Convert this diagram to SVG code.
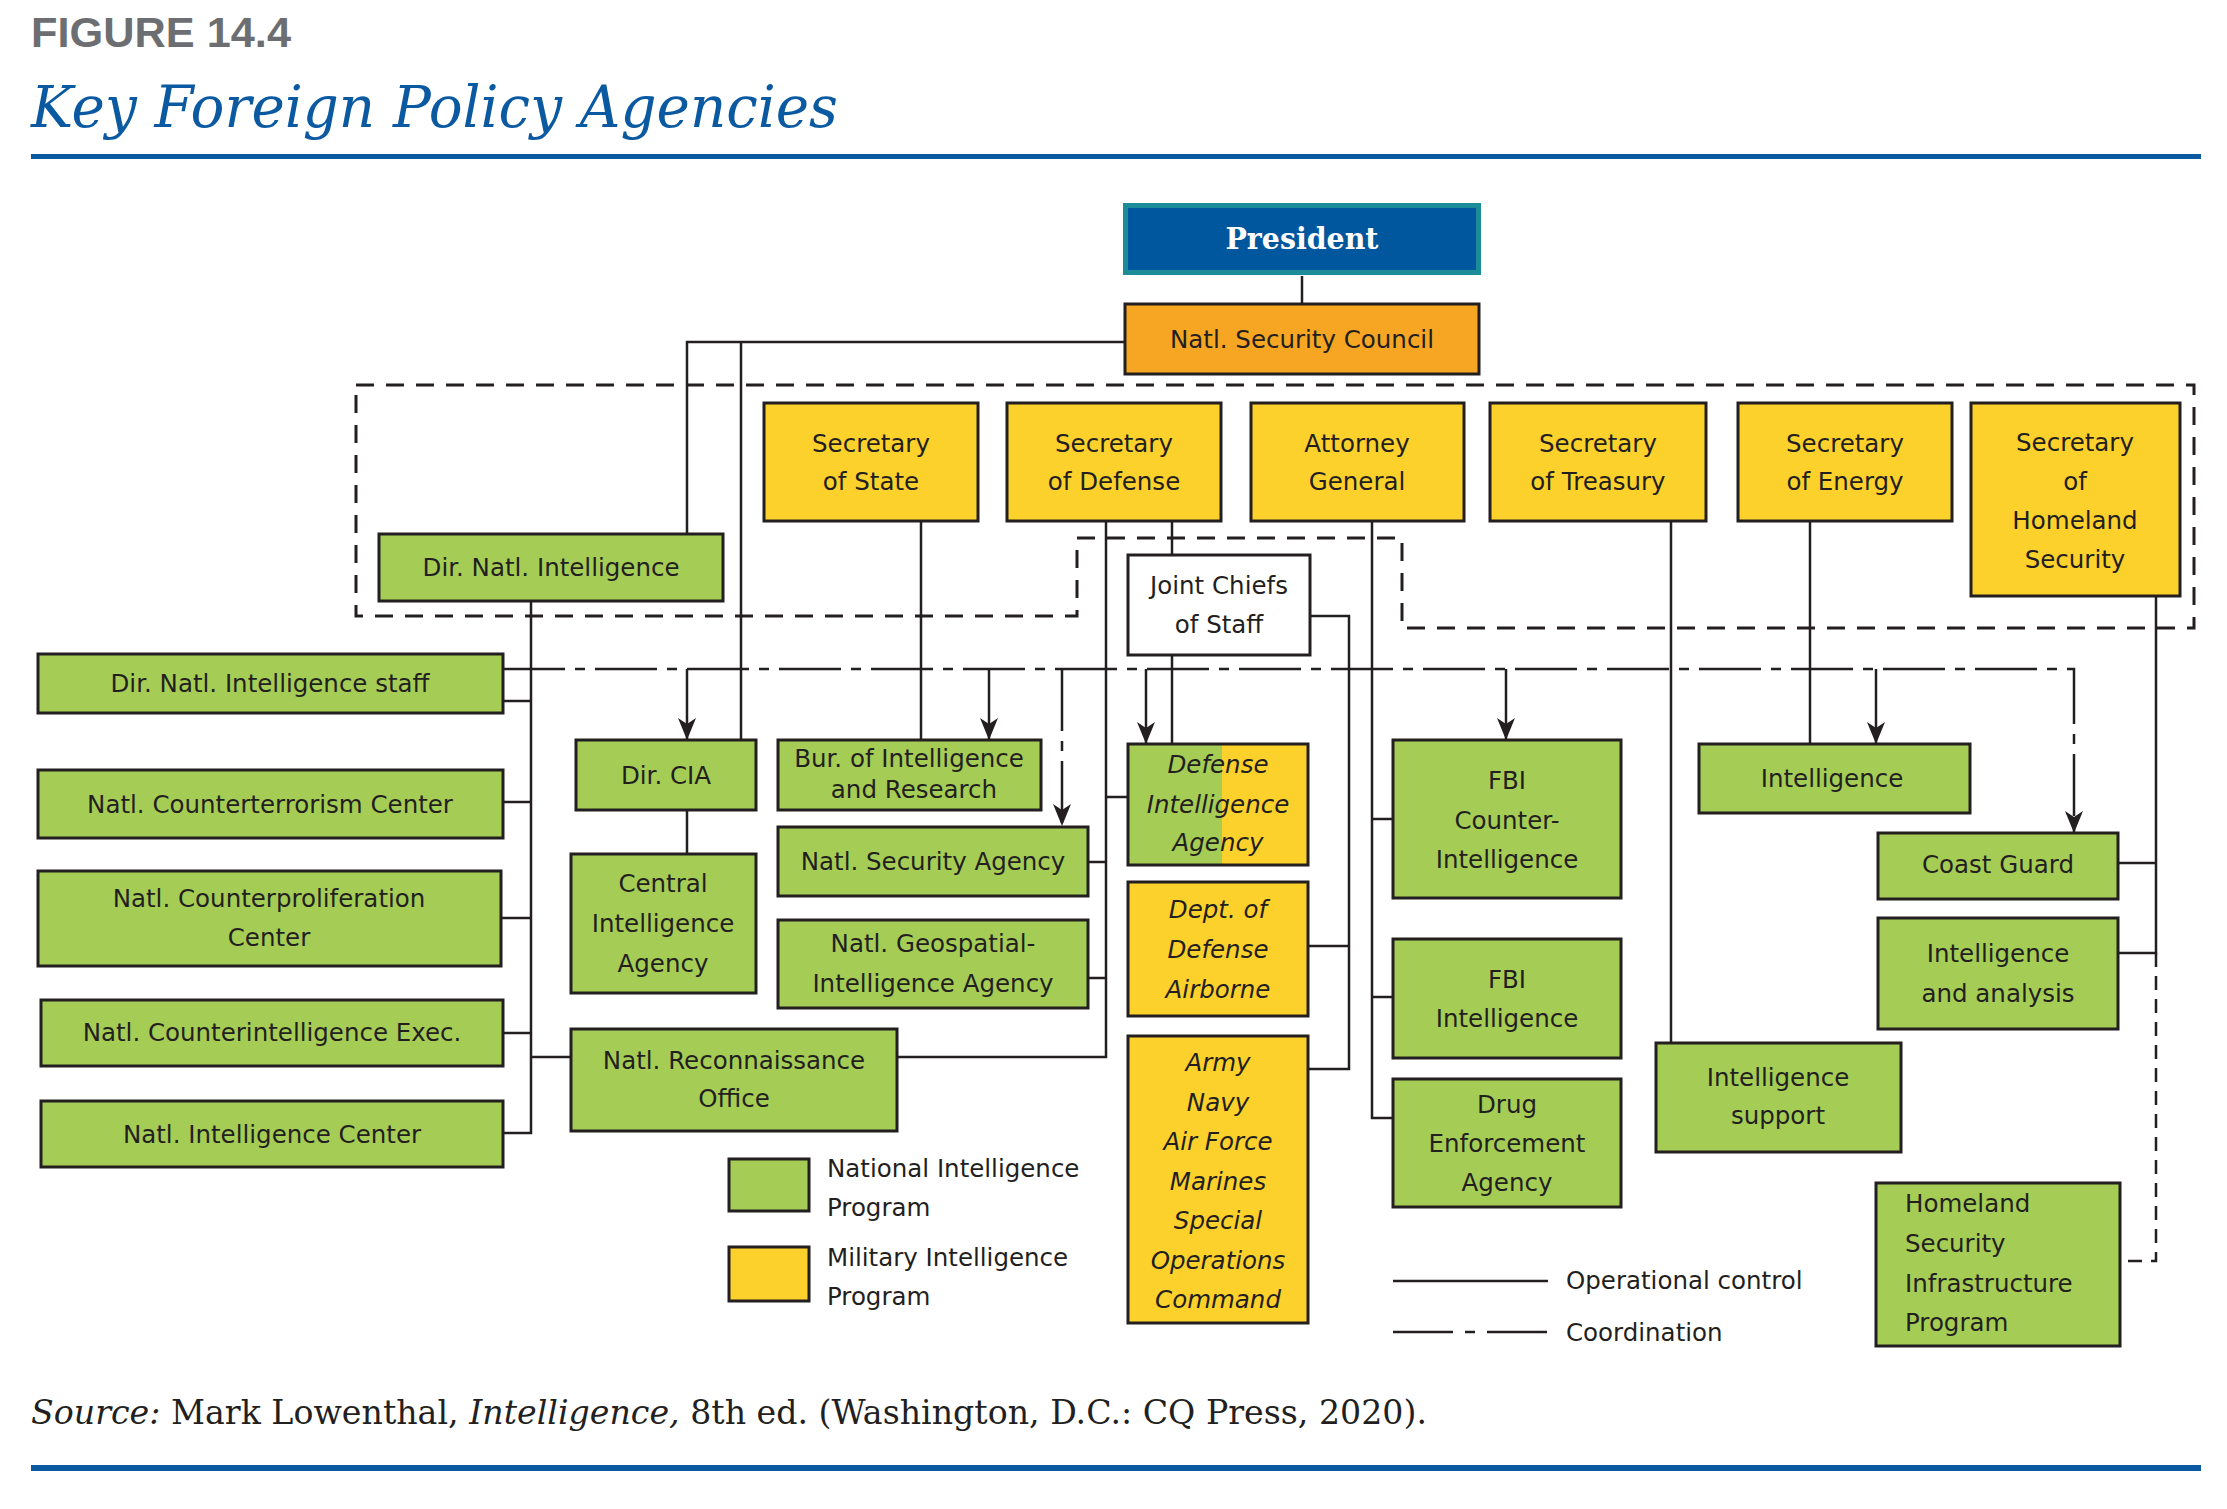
<svg xmlns="http://www.w3.org/2000/svg" width="2227" height="1509" viewBox="0 0 2227 1509">
<defs>
<style>
.bx{stroke:#231f20;stroke-width:3}
.g{fill:#a5cd55}.y{fill:#fdd12b}.o{fill:#f6a623}.w{fill:#ffffff}
.t{font-family:"DejaVu Sans",sans-serif;font-size:24.5px;fill:#231f20;text-anchor:middle}
.i{font-style:italic}
.ln{fill:none;stroke:#231f20;stroke-width:2.5}
.grp{fill:none;stroke:#231f20;stroke-width:3;stroke-dasharray:18 12}
.co{stroke-dasharray:62 10 10 10}
.hd{stroke-dasharray:14 9}
</style>
<marker id="ah" markerUnits="userSpaceOnUse" markerWidth="22" markerHeight="18" viewBox="0 0 22 18" refX="22" refY="9" orient="auto">
<path d="M0,0 L22,9 L0,18 L6,9 Z" fill="#231f20"/>
</marker>
</defs>
<rect width="2227" height="1509" fill="#ffffff"/>

<g id="header">
<text x="31" y="47" font-family="Liberation Sans,Arial,sans-serif" font-weight="bold" font-size="42" fill="#6d6e71" textLength="260" lengthAdjust="spacingAndGlyphs">FIGURE 14.4</text>
<text x="31" y="127" font-family="DejaVu Serif,serif" font-style="italic" font-size="58" fill="#0b5aa1" textLength="807" lengthAdjust="spacingAndGlyphs">Key Foreign Policy Agencies</text>
<rect x="31" y="154" width="2170" height="5" fill="#0b5aa1"/>
</g>

<g id="groupings">
<path class="grp" d="M356,385 H2194 V628 H1402 V538 H1077 V616 H356 Z"/>
</g>

<g id="connectors">
<path class="ln" d="M1302,276 V304"/>
<path class="ln" d="M1125,342 H687 V534"/>
<path class="ln" d="M741,342 V740"/>
<path class="ln" d="M1172,521 V555"/>
<path class="ln" d="M1172,655 V744"/>
<path class="ln" d="M1106,521 V1057 H897"/>
<path class="ln" d="M1088,862 H1106"/>
<path class="ln" d="M1088,978 H1106"/>
<path class="ln" d="M1106,797 H1128"/>
<path class="ln" d="M1310,616 H1349 V1069 H1308"/>
<path class="ln" d="M1308,946 H1349"/>
<path class="ln" d="M1372,521 V1118 H1393"/>
<path class="ln" d="M1372,819 H1393"/>
<path class="ln" d="M1372,997 H1393"/>
<path class="ln" d="M921,521 V740"/>
<path class="ln" d="M1671,521 V1043"/>
<path class="ln" d="M1810,521 V744"/>
<path class="ln" d="M2156,596 V953 H2118"/>
<path class="ln" d="M2118,863 H2156"/>
<path class="ln" d="M531,601 V1133 H503"/>
<path class="ln" d="M503,701 H531"/>
<path class="ln" d="M503,802 H531"/>
<path class="ln" d="M501,918 H531"/>
<path class="ln" d="M503,1033 H531"/>
<path class="ln" d="M531,1057 H571"/>
<path class="ln" d="M687,810 V854"/>
<path class="ln co" d="M503,669 H2074 V833" marker-end="url(#ah)"/>
<path class="ln co" d="M1062,669 V826" marker-end="url(#ah)"/>
<path class="ln" d="M687,669 V740" marker-end="url(#ah)"/>
<path class="ln" d="M989,669 V740" marker-end="url(#ah)"/>
<path class="ln" d="M1146,669 V744" marker-end="url(#ah)"/>
<path class="ln" d="M1506,669 V740" marker-end="url(#ah)"/>
<path class="ln" d="M1876,669 V744" marker-end="url(#ah)"/>
<path class="ln hd" d="M2156,953 V1261 H2122"/>
</g>

<g id="president">
<rect x="1125.5" y="205.5" width="353" height="67" fill="#00579e" stroke="#1c8c99" stroke-width="5"/>
<text x="1302" y="249" font-family="DejaVu Serif,serif" font-weight="bold" font-size="30" fill="#ffffff" text-anchor="middle" textLength="153" lengthAdjust="spacingAndGlyphs">President</text>
</g>
<g id="nsc"><rect class="bx o" x="1125" y="304" width="354" height="70"/><text class="t" x="1302" y="348">Natl. Security Council</text></g>
<g id="sec-state"><rect class="bx y" x="764" y="403" width="214" height="118"/><text class="t"><tspan x="871" y="452">Secretary</tspan><tspan x="871" y="490">of State</tspan></text></g>
<g id="sec-defense"><rect class="bx y" x="1007" y="403" width="214" height="118"/><text class="t"><tspan x="1114" y="452">Secretary</tspan><tspan x="1114" y="490">of Defense</tspan></text></g>
<g id="attorney-general"><rect class="bx y" x="1251" y="403" width="213" height="118"/><text class="t"><tspan x="1357" y="452">Attorney</tspan><tspan x="1357" y="490">General</tspan></text></g>
<g id="sec-treasury"><rect class="bx y" x="1490" y="403" width="216" height="118"/><text class="t"><tspan x="1598" y="452">Secretary</tspan><tspan x="1598" y="490">of Treasury</tspan></text></g>
<g id="sec-energy"><rect class="bx y" x="1738" y="403" width="214" height="118"/><text class="t"><tspan x="1845" y="452">Secretary</tspan><tspan x="1845" y="490">of Energy</tspan></text></g>
<g id="sec-homeland"><rect class="bx y" x="1971" y="403" width="209" height="193"/><text class="t"><tspan x="2075" y="451">Secretary</tspan><tspan x="2075" y="490">of</tspan><tspan x="2075" y="529">Homeland</tspan><tspan x="2075" y="568">Security</tspan></text></g>
<g id="dni"><rect class="bx g" x="379" y="534" width="344" height="67"/><text class="t" x="551" y="576">Dir. Natl. Intelligence</text></g>
<g id="jcs"><rect class="bx w" x="1128" y="555" width="182" height="100"/><text class="t"><tspan x="1219" y="594">Joint Chiefs</tspan><tspan x="1219" y="633">of Staff</tspan></text></g>
<g id="dni-staff"><rect class="bx g" x="38" y="654" width="465" height="59"/><text class="t" x="270" y="692">Dir. Natl. Intelligence staff</text></g>
<g id="nctc"><rect class="bx g" x="38" y="770" width="465" height="68"/><text class="t" x="270" y="813">Natl. Counterterrorism Center</text></g>
<g id="ncpc"><rect class="bx g" x="38" y="871" width="463" height="95"/><text class="t"><tspan x="269" y="907">Natl. Counterproliferation</tspan><tspan x="269" y="946">Center</tspan></text></g>
<g id="ncix"><rect class="bx g" x="41" y="1000" width="462" height="66"/><text class="t" x="272" y="1041">Natl. Counterintelligence Exec.</text></g>
<g id="nic"><rect class="bx g" x="41" y="1101" width="462" height="66"/><text class="t" x="272" y="1143">Natl. Intelligence Center</text></g>
<g id="dir-cia"><rect class="bx g" x="576" y="740" width="180" height="70"/><text class="t" x="666" y="784">Dir. CIA</text></g>
<g id="cia"><rect class="bx g" x="571" y="854" width="185" height="139"/><text class="t"><tspan x="663" y="892">Central</tspan><tspan x="663" y="932">Intelligence</tspan><tspan x="663" y="972">Agency</tspan></text></g>
<g id="nro"><rect class="bx g" x="571" y="1029" width="326" height="102"/><text class="t"><tspan x="734" y="1069">Natl. Reconnaissance</tspan><tspan x="734" y="1107">Office</tspan></text></g>
<g id="inr"><rect class="bx g" x="778" y="740" width="263" height="70"/><text class="t"><tspan x="909" y="767">Bur. of Intelligence</tspan><tspan x="914" y="798">and Research</tspan></text></g>
<g id="nsa"><rect class="bx g" x="778" y="827" width="310" height="69"/><text class="t" x="933" y="870">Natl. Security Agency</text></g>
<g id="nga"><rect class="bx g" x="778" y="920" width="310" height="88"/><text class="t"><tspan x="933" y="952">Natl. Geospatial-</tspan><tspan x="933" y="992">Intelligence Agency</tspan></text></g>
<g id="dia"><rect class="g" x="1128" y="744" width="94" height="121"/><rect class="y" x="1222" y="744" width="86" height="121"/><rect x="1128" y="744" width="180" height="121" fill="none" stroke="#231f20" stroke-width="3"/><text class="t i"><tspan x="1218" y="773">Defense</tspan><tspan x="1218" y="813">Intelligence</tspan><tspan x="1218" y="851">Agency</tspan></text></g>
<g id="dod-airborne"><rect class="bx y" x="1128" y="882" width="180" height="134"/><text class="t i"><tspan x="1218" y="918">Dept. of</tspan><tspan x="1218" y="958">Defense</tspan><tspan x="1218" y="998">Airborne</tspan></text></g>
<g id="services"><rect class="bx y" x="1128" y="1036" width="180" height="287"/><text class="t i"><tspan x="1218" y="1071">Army</tspan><tspan x="1218" y="1111">Navy</tspan><tspan x="1218" y="1150">Air Force</tspan><tspan x="1218" y="1190">Marines</tspan><tspan x="1218" y="1229">Special</tspan><tspan x="1218" y="1269">Operations</tspan><tspan x="1218" y="1308">Command</tspan></text></g>
<g id="fbi-ci"><rect class="bx g" x="1393" y="740" width="228" height="158"/><text class="t"><tspan x="1507" y="789">FBI</tspan><tspan x="1507" y="829">Counter-</tspan><tspan x="1507" y="868">Intelligence</tspan></text></g>
<g id="fbi-int"><rect class="bx g" x="1393" y="939" width="228" height="119"/><text class="t"><tspan x="1507" y="988">FBI</tspan><tspan x="1507" y="1027">Intelligence</tspan></text></g>
<g id="dea"><rect class="bx g" x="1393" y="1079" width="228" height="128"/><text class="t"><tspan x="1507" y="1113">Drug</tspan><tspan x="1507" y="1152">Enforcement</tspan><tspan x="1507" y="1191">Agency</tspan></text></g>
<g id="energy-int"><rect class="bx g" x="1699" y="744" width="271" height="69"/><text class="t" x="1832" y="787">Intelligence</text></g>
<g id="coast-guard"><rect class="bx g" x="1878" y="833" width="240" height="66"/><text class="t" x="1998" y="873">Coast Guard</text></g>
<g id="int-analysis"><rect class="bx g" x="1878" y="918" width="240" height="111"/><text class="t"><tspan x="1998" y="962">Intelligence</tspan><tspan x="1998" y="1002">and analysis</tspan></text></g>
<g id="int-support"><rect class="bx g" x="1656" y="1043" width="245" height="109"/><text class="t"><tspan x="1778" y="1086">Intelligence</tspan><tspan x="1778" y="1124">support</tspan></text></g>
<g id="hsip"><rect class="bx g" x="1876" y="1183" width="244" height="163"/><text class="t" style="text-anchor:start"><tspan x="1905" y="1212">Homeland</tspan><tspan x="1905" y="1252">Security</tspan><tspan x="1905" y="1292">Infrastructure</tspan><tspan x="1905" y="1331">Program</tspan></text></g>

<g id="legend">
<rect class="bx g" x="729" y="1159" width="80" height="52"/>
<text class="t" style="text-anchor:start"><tspan x="827" y="1177">National Intelligence</tspan><tspan x="827" y="1216">Program</tspan></text>
<rect class="bx y" x="729" y="1247" width="80" height="54"/>
<text class="t" style="text-anchor:start"><tspan x="827" y="1266">Military Intelligence</tspan><tspan x="827" y="1305">Program</tspan></text>
<path class="ln" d="M1393,1281 H1548"/>
<text class="t" x="1566" y="1289" style="text-anchor:start">Operational control</text>
<path class="ln" d="M1393,1332 H1548" stroke-dasharray="60 12 10 12"/>
<text class="t" x="1566" y="1341" style="text-anchor:start">Coordination</text>
</g>

<g id="footer">
<text x="31" y="1424" font-family="DejaVu Serif,serif" font-size="33" fill="#231f20" textLength="1396" lengthAdjust="spacingAndGlyphs"><tspan font-style="italic">Source:</tspan> Mark Lowenthal, <tspan font-style="italic">Intelligence,</tspan> 8th ed. (Washington, D.C.: CQ Press, 2020).</text>
<rect x="31" y="1465" width="2170" height="6" fill="#0b5aa1"/>
</g>
</svg>
